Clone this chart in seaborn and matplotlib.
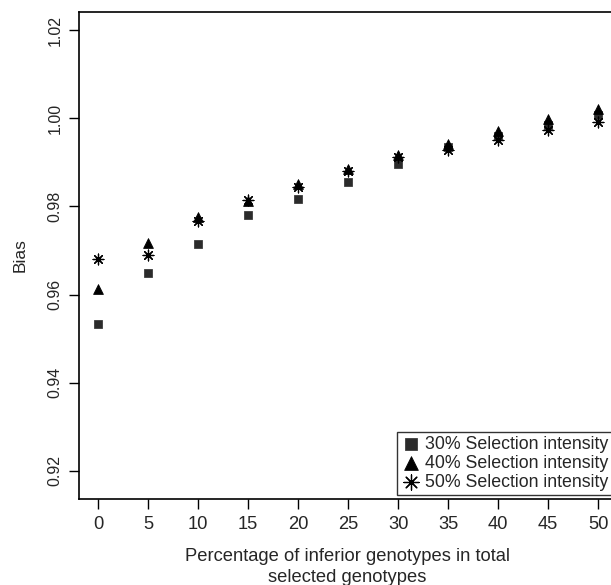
import numpy as np
import pandas as pd
import matplotlib
matplotlib.use("Agg")
import matplotlib.pyplot as plt
import seaborn as sns

# Dados
percentual = [0, 5, 10, 15, 20, 25, 30, 35, 40, 45, 50]
bias_30 = [0.9532, 0.9648, 0.9714, 0.9780, 0.9816, 0.9856, 0.9895, 0.9934, 0.9960, 0.9984, 1.0008]
bias_40 = [0.9612, 0.9717, 0.9776, 0.9812, 0.9850, 0.9885, 0.9916, 0.9942, 0.9972, 0.9998, 1.0022]
bias_50 = [0.9681, 0.9690, 0.9766, 0.9815, 0.9845, 0.9880, 0.9911, 0.9927, 0.9950, 0.9973, 0.9992]

series = ['30% Selection intensity', '40% Selection intensity', '50% Selection intensity']

df = pd.DataFrame({
    'x': percentual * 3,
    'bias': bias_30 + bias_40 + bias_50,
    'serie': [s for s in series for _ in percentual],
})

sns.set_style('white')
plt.rcParams['font.family'] = ['Liberation Sans', 'DejaVu Sans']

fig = plt.figure(figsize=(6.11, 5.85), dpi=100)
ax = fig.add_axes([0.1293, 0.147, 0.879, 0.8325])

estilos = {
    series[0]: dict(marker='s', color='#2b2b2b', s=40, edgecolor='#2b2b2b'),
    series[1]: dict(marker='^', color='black', s=50, edgecolor='black'),
    series[2]: dict(marker=(8, 2, 0), color='black', s=60, linewidth=0.9),
}

for nome in series:
    sub = df[df['serie'] == nome]
    sns.scatterplot(data=sub, x='x', y='bias', ax=ax, label=nome, **estilos[nome])

ax.set_xlim(-1.9, 51.8)
ax.set_ylim(0.9136, 1.0241)
ax.set_xticks(percentual)
ax.set_yticks([0.92, 0.94, 0.96, 0.98, 1.00, 1.02])
ax.set_yticklabels(['0.92', '0.94', '0.96', '0.98', '1.00', '1.02'], rotation=90, va='center')

for s in ax.spines.values():
    s.set_color('black')
    s.set_linewidth(1.2)

ax.tick_params(axis='both', which='major', direction='out', length=7, width=1,
               color='black', bottom=True, left=True, pad=5)
ax.tick_params(axis='x', labelsize=13.2)
ax.tick_params(axis='y', labelsize=11.5)

ax.set_xlabel('Percentage of inferior genotypes in total\nselected genotypes', fontsize=13.2,
              labelpad=11, linespacing=1.3)
ax.set_ylabel('Bias', fontsize=12.5, labelpad=14)

leg = ax.legend(loc='lower right', frameon=True, fancybox=False, fontsize=12.8,
                handletextpad=0.25, borderpad=0.2, labelspacing=0.12,
                borderaxespad=0.25, handlelength=1.1, markerscale=1.4)
leg.get_frame().set_edgecolor('black')
leg.get_frame().set_linewidth(1.0)

fig.savefig('out.png', dpi=100)
